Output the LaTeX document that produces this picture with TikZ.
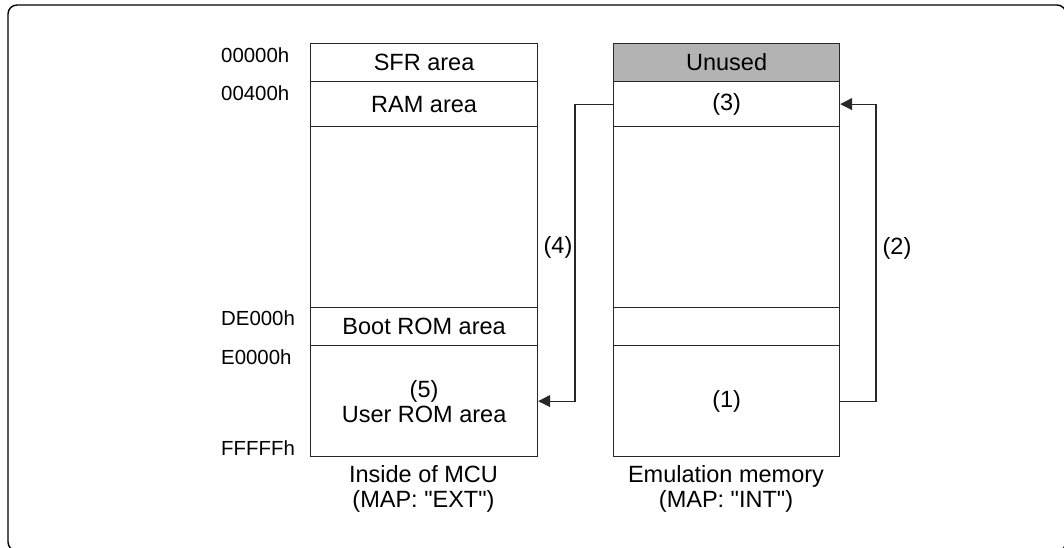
\documentclass[tikz,border=0pt]{standalone}
\usepackage{fontspec}
\setmainfont{Liberation Sans}
\usetikzlibrary{arrows.meta}
\definecolor{unusedgray}{RGB}{179,179,179}
\definecolor{lineclr}{RGB}{40,40,40}
\begin{document}
\begin{tikzpicture}[x=1pt,y=-1pt,
  every node/.style={font=\fontsize{23.5}{26}\selectfont},
  area/.style={draw=lineclr,line width=1.2pt,anchor=north west,inner sep=0pt,minimum width=#1,align=center},
  addr/.style={anchor=west,inner sep=0pt,font=\fontsize{20.4}{24}\selectfont},
  lbl/.style={inner sep=0pt,align=center},
  conn/.style={draw=lineclr,line width=1.1pt},
  arr/.style={conn,-{Triangle[length=12pt,width=12pt]}}]
\useasboundingbox (0,0) rectangle (1064,548);
\clip (0,0) rectangle (1064,548);
\draw[line width=1.4pt,rounded corners=9pt] (8,5) rectangle (1066,551);
% left column
\node[area=227pt,minimum height=38pt] (l1) at (310,43) {SFR area};
\node[area=227pt,minimum height=45pt] (l2) at (310,81) {RAM area};
\node[area=227pt,minimum height=181pt] (l3) at (310,126) {};
\node[area=227pt,minimum height=38pt] (l4) at (310,307) {Boot ROM area};
\node[area=227pt,minimum height=111pt] (l5) at (310,345) {(5)\\[-1pt]User ROM area};
% right column
\node[area=226pt,minimum height=38pt,fill=unusedgray] (r1) at (613,43) {Unused};
\node[area=226pt,minimum height=45pt] (r2) at (613,81) {(3)};
\node[area=226pt,minimum height=181pt] (r3) at (613,126) {};
\node[area=226pt,minimum height=38pt] (r4) at (613,307) {};
\node[area=226pt,minimum height=111pt] (r5) at (613,345) {(1)};
% addresses
\node[addr] (a1) at (221,55) {00000h};
\node[addr] (a2) at (221,93) {00400h};
\node[addr] (a3) at (221,318) {DE000h};
\node[addr] (a4) at (221,357) {E0000h};
\node[addr] (a5) at (221,448) {FFFFFh};
% captions
\node[lbl] (c1) at (423.5,489) {Inside of MCU\\[-1pt](MAP: \textquotedbl EXT\textquotedbl)};
\node[lbl] (c2) at (726,489) {Emulation memory\\[-1pt](MAP: \textquotedbl INT\textquotedbl)};
% connectors
\coordinate (k4) at (575,0);
\coordinate (k2) at (876,0);
\draw[arr] (r2.west) -- (r2.west -| k4) |- (l5.east);
\draw[arr] (r5.east) -- (r5.east -| k2) |- (r2.east);
\node[lbl] (n4) at (558,247) {(4)};
\node[lbl] (n2) at (897,248) {(2)};
\end{tikzpicture}
\end{document}
